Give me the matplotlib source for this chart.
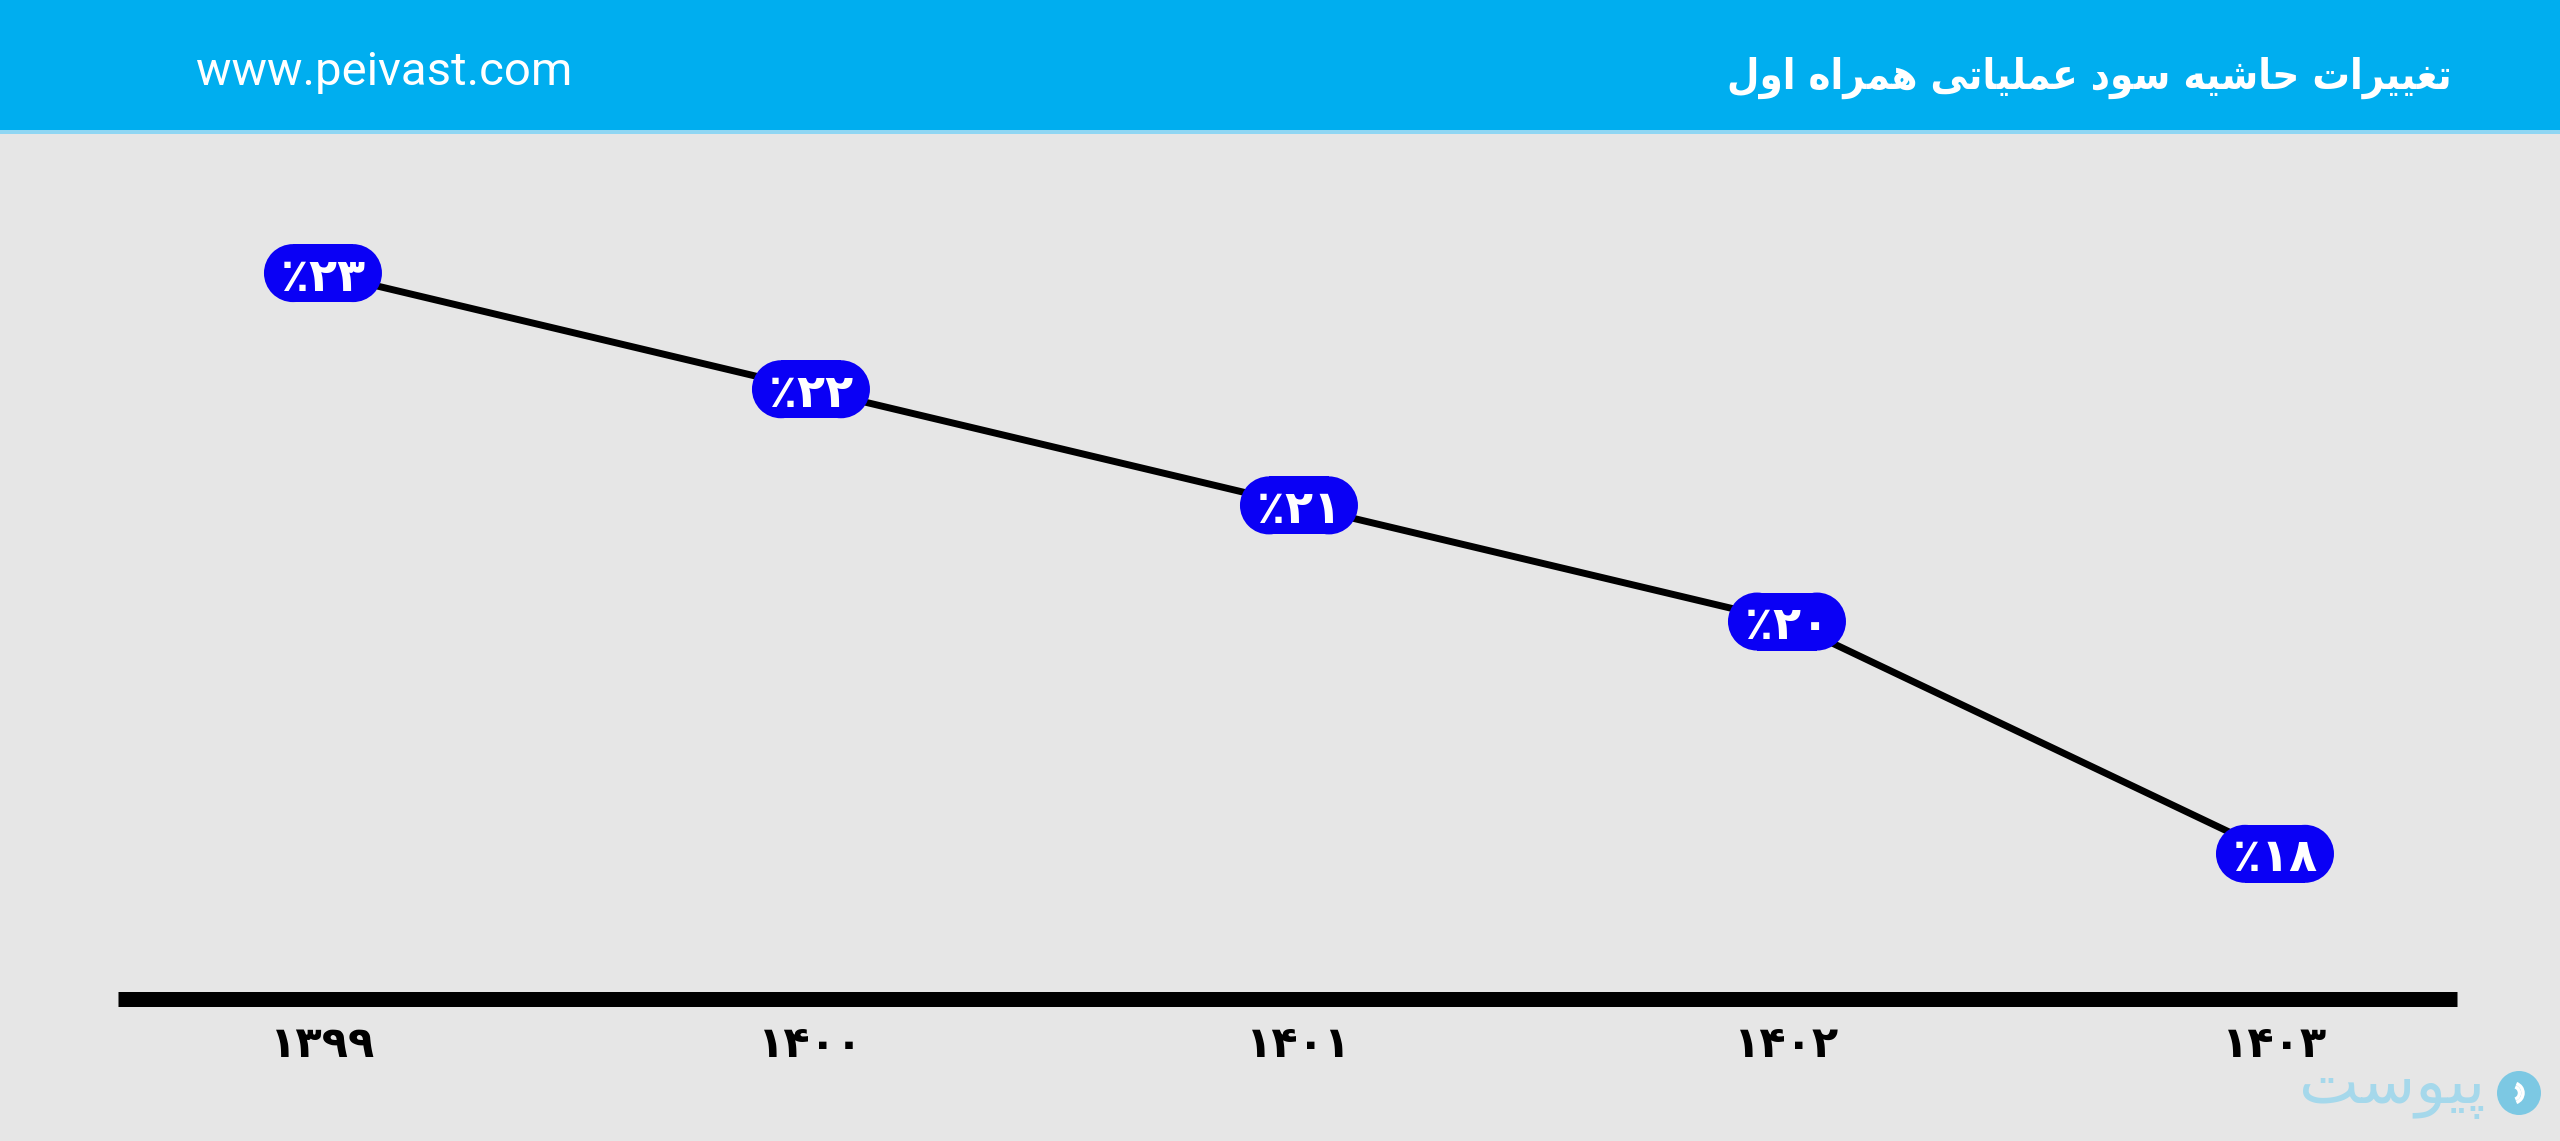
import matplotlib
matplotlib.use("Agg")
import matplotlib.pyplot as plt
from matplotlib.patches import Rectangle, Circle, Arc
from matplotlib.transforms import ScaledTranslation

# data
years = ["۱۳۹۹", "۱۴۰۰", "۱۴۰۱", "۱۴۰۲", "۱۴۰۳"]
margin = [23, 22, 21, 20, 18]
labels = ["٪۲۳", "٪۲۲", "٪۲۱", "٪۲۰", "٪۱۸"]
title = "تغییرات حاشیه سود عملیاتی همراه اول"
site = "www.peivast.com"
brand = "پیوست"

# presentation forms: isolated, final, initial, medial
FORMS = {
    'ا': ('\uFE8D', '\uFE8E', None, None),
    'ب': ('\uFE8F', '\uFE90', '\uFE91', '\uFE92'),
    'پ': ('\uFB56', '\uFB57', '\uFB58', '\uFB59'),
    'ت': ('\uFE95', '\uFE96', '\uFE97', '\uFE98'),
    'ح': ('\uFEA1', '\uFEA2', '\uFEA3', '\uFEA4'),
    'د': ('\uFEA9', '\uFEAA', None, None),
    'ر': ('\uFEAD', '\uFEAE', None, None),
    'س': ('\uFEB1', '\uFEB2', '\uFEB3', '\uFEB4'),
    'ش': ('\uFEB5', '\uFEB6', '\uFEB7', '\uFEB8'),
    'ع': ('\uFEC9', '\uFECA', '\uFECB', '\uFECC'),
    'غ': ('\uFECD', '\uFECE', '\uFECF', '\uFED0'),
    'ل': ('\uFEDD', '\uFEDE', '\uFEDF', '\uFEE0'),
    'م': ('\uFEE1', '\uFEE2', '\uFEE3', '\uFEE4'),
    'ه': ('\uFEE9', '\uFEEA', '\uFEEB', '\uFEEC'),
    'و': ('\uFEED', '\uFEEE', None, None),
    'ی': ('\uFEEF', '\uFEF0', '\uFEF3', '\uFEF4'),
}


def shape(text):
    out = []
    for i, c in enumerate(text):
        if c not in FORMS:
            out.append(c)
            continue
        iso, fin, ini, med = FORMS[c]
        prev = text[i - 1] if i > 0 else None
        nxt = text[i + 1] if i + 1 < len(text) else None
        jp = prev in FORMS and FORMS[prev][2] is not None
        jn = nxt in FORMS and ini is not None
        if jp and jn:
            out.append(med)
        elif jp:
            out.append(fin)
        elif jn:
            out.append(ini)
        else:
            out.append(iso)
    return "".join(reversed(out))


W, H = 2560, 1141
fig = plt.figure(figsize=(W / 100, H / 100), dpi=100)
fig.patch.set_facecolor("#E6E6E6")

# header band
fig.patches.append(Rectangle((0, 1 - 130 / H), 1, 130 / H, transform=fig.transFigure,
                             facecolor="#00AEEF", edgecolor="none", zorder=0))
fig.patches.append(Rectangle((0, 1 - 134 / H), 1, 4 / H, transform=fig.transFigure,
                             facecolor="#8FD6F3", edgecolor="none", zorder=0))
fig.text(2452 / W, 1 - 78 / H, shape(title), color="white", fontsize=30,
         fontweight="bold", fontstretch="condensed", family=["DejaVu Sans"],
         ha="right", va="center")
fig.text(196 / W, 1 - 72 / H, site, color="white", fontsize=34,
         family=["Roboto", "DejaVu Sans"], ha="left", va="center")

# main axes
ax = fig.add_axes([118 / W, 1 - 999 / H, (2457 - 118) / W, (999 - 150) / H])
ax.set_facecolor("none")
x = list(range(len(years)))
ax.plot(x, margin, color="black", lw=5, zorder=2, solid_capstyle="round")

# pill-shaped value labels (sizes in inches around each point)
pill_fc = "#0A00F5"
for xi, yi, lab in zip(x, margin, labels):
    tr = fig.dpi_scale_trans + ScaledTranslation(xi, yi, ax.transData)
    ax.add_patch(Rectangle((-0.30, -0.29), 0.60, 0.58, transform=tr,
                           facecolor=pill_fc, edgecolor="none", zorder=3))
    for cx in (-0.30, 0.30):
        ax.add_patch(Circle((cx, 0), 0.29, transform=tr,
                            facecolor=pill_fc, edgecolor="none", zorder=3))
    ax.text(xi, yi, lab, color="white", fontsize=33, fontweight="bold",
            family=["DejaVu Sans"], ha="center", va="center_baseline", zorder=4)

ax.set_xlim(-0.42, 4.373)
ax.set_ylim(16.75, 24.06)
for s in ["top", "right", "left"]:
    ax.spines[s].set_visible(False)
ax.spines["bottom"].set_linewidth(10.8)
ax.spines["bottom"].set_color("black")
ax.spines["bottom"].set_capstyle("butt")
ax.set_yticks([])
ax.set_xticks(x)
ax.set_xticklabels(years, fontsize=31, fontweight="bold", family=["DejaVu Sans"])
ax.tick_params(axis="x", length=0, pad=18)

# brand mark bottom right
ctr = (25.19, (H - 1093) / 100)
fig.patches.append(Circle(ctr, 0.22, transform=fig.dpi_scale_trans,
                          facecolor="#7CC8E3", edgecolor="none"))
for r in (0.20, 0.13):
    fig.patches.append(Arc((ctr[0] - 0.06, ctr[1]), r, r, theta1=-70, theta2=70,
                           transform=fig.dpi_scale_trans, color="white", lw=2.5))
fig.text(2485 / W, 1 - 1088 / H, shape(brand), color="#A5D8EB", fontsize=46,
         family=["DejaVu Sans"], ha="right", va="center")

fig.savefig("out.png", dpi=100, facecolor=fig.get_facecolor())
